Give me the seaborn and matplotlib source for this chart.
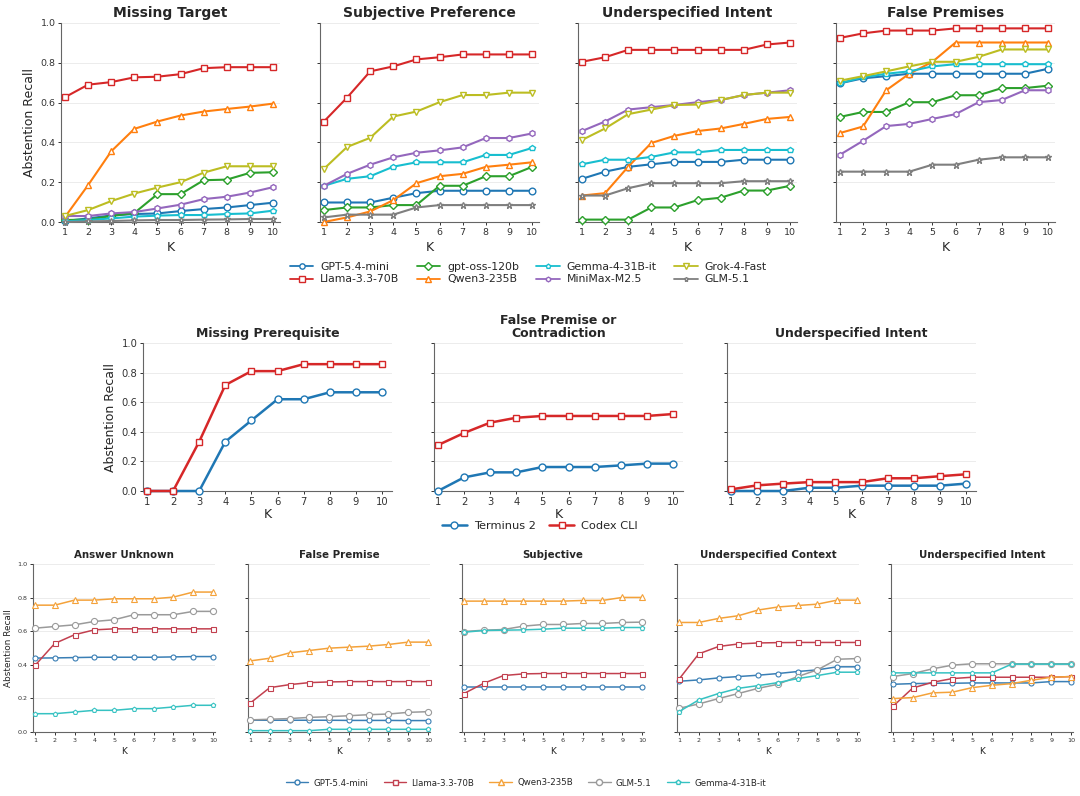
import matplotlib
matplotlib.use("Agg")
import matplotlib.pyplot as plt
import seaborn as sns
from matplotlib.lines import Line2D

K = [1, 2, 3, 4, 5, 6, 7, 8, 9, 10]

# ---------------- top row (8 models) ----------------
top_titles = ["Missing Target", "Subjective Preference", "Underspecified Intent", "False Premises"]
top_models = ["GPT-5.4-mini", "Llama-3.3-70B", "gpt-oss-120b", "Qwen3-235B",
              "Gemma-4-31B-it", "MiniMax-M2.5", "Grok-4-Fast", "GLM-5.1"]

missing_target = {
    "GPT-5.4-mini":   [0.005, 0.018, 0.033, 0.040, 0.043, 0.055, 0.065, 0.073, 0.085, 0.097],
    "Llama-3.3-70B":  [0.627, 0.690, 0.703, 0.727, 0.730, 0.743, 0.773, 0.778, 0.778, 0.778],
    "gpt-oss-120b":   [0.010, 0.012, 0.030, 0.045, 0.140, 0.140, 0.210, 0.213, 0.247, 0.250],
    "Qwen3-235B":     [0.025, 0.185, 0.355, 0.468, 0.505, 0.535, 0.555, 0.568, 0.580, 0.595],
    "Gemma-4-31B-it": [0.003, 0.010, 0.018, 0.027, 0.032, 0.035, 0.035, 0.040, 0.043, 0.057],
    "MiniMax-M2.5":   [0.030, 0.030, 0.043, 0.050, 0.068, 0.087, 0.115, 0.127, 0.148, 0.175],
    "Grok-4-Fast":    [0.030, 0.060, 0.105, 0.143, 0.173, 0.200, 0.248, 0.280, 0.280, 0.280],
    "GLM-5.1":        [0.000, 0.003, 0.005, 0.008, 0.010, 0.010, 0.012, 0.013, 0.015, 0.015],
}
subjective_pref = {
    "GPT-5.4-mini":   [0.098, 0.098, 0.098, 0.122, 0.145, 0.157, 0.157, 0.157, 0.157, 0.157],
    "Llama-3.3-70B":  [0.505, 0.625, 0.757, 0.782, 0.817, 0.828, 0.842, 0.842, 0.842, 0.842],
    "gpt-oss-120b":   [0.060, 0.073, 0.073, 0.085, 0.085, 0.182, 0.182, 0.230, 0.230, 0.277],
    "Qwen3-235B":     [0.000, 0.023, 0.053, 0.110, 0.195, 0.230, 0.242, 0.277, 0.288, 0.300],
    "Gemma-4-31B-it": [0.182, 0.217, 0.230, 0.278, 0.300, 0.300, 0.300, 0.337, 0.337, 0.372],
    "MiniMax-M2.5":   [0.182, 0.242, 0.288, 0.325, 0.348, 0.360, 0.375, 0.422, 0.422, 0.445],
    "Grok-4-Fast":    [0.267, 0.377, 0.423, 0.530, 0.555, 0.602, 0.638, 0.638, 0.650, 0.650],
    "GLM-5.1":        [0.023, 0.037, 0.037, 0.037, 0.073, 0.085, 0.085, 0.085, 0.085, 0.085],
}
underspec_intent = {
    "GPT-5.4-mini":   [0.217, 0.253, 0.277, 0.290, 0.302, 0.302, 0.302, 0.313, 0.313, 0.313],
    "Llama-3.3-70B":  [0.805, 0.828, 0.865, 0.865, 0.865, 0.865, 0.865, 0.865, 0.892, 0.902],
    "gpt-oss-120b":   [0.012, 0.012, 0.012, 0.073, 0.073, 0.110, 0.122, 0.158, 0.158, 0.182],
    "Qwen3-235B":     [0.133, 0.145, 0.278, 0.397, 0.433, 0.457, 0.470, 0.493, 0.518, 0.528],
    "Gemma-4-31B-it": [0.290, 0.313, 0.313, 0.327, 0.350, 0.350, 0.362, 0.362, 0.362, 0.362],
    "MiniMax-M2.5":   [0.457, 0.505, 0.565, 0.577, 0.588, 0.602, 0.613, 0.638, 0.650, 0.662],
    "Grok-4-Fast":    [0.412, 0.470, 0.542, 0.565, 0.588, 0.590, 0.613, 0.638, 0.650, 0.650],
    "GLM-5.1":        [0.133, 0.133, 0.170, 0.195, 0.195, 0.195, 0.195, 0.205, 0.205, 0.205],
}
false_premises = {
    "GPT-5.4-mini":   [0.697, 0.722, 0.733, 0.745, 0.745, 0.745, 0.745, 0.745, 0.745, 0.770],
    "Llama-3.3-70B":  [0.925, 0.948, 0.962, 0.962, 0.962, 0.973, 0.973, 0.973, 0.973, 0.973],
    "gpt-oss-120b":   [0.528, 0.553, 0.553, 0.602, 0.602, 0.637, 0.637, 0.673, 0.673, 0.685],
    "Qwen3-235B":     [0.447, 0.480, 0.662, 0.745, 0.805, 0.902, 0.902, 0.902, 0.902, 0.902],
    "Gemma-4-31B-it": [0.698, 0.727, 0.745, 0.757, 0.782, 0.793, 0.793, 0.793, 0.793, 0.793],
    "MiniMax-M2.5":   [0.338, 0.408, 0.482, 0.493, 0.518, 0.542, 0.602, 0.613, 0.662, 0.662],
    "Grok-4-Fast":    [0.710, 0.733, 0.757, 0.782, 0.805, 0.805, 0.830, 0.867, 0.867, 0.867],
    "GLM-5.1":        [0.253, 0.253, 0.253, 0.253, 0.288, 0.288, 0.313, 0.325, 0.325, 0.325],
}

# ---------------- middle row (2 agents) ----------------
mid_titles = ["Missing Prerequisite", "False Premise or\nContradiction", "Underspecified Intent"]
mid_models = ["Terminus 2", "Codex CLI"]
missing_prereq = {
    "Terminus 2": [0.000, 0.000, 0.000, 0.333, 0.477, 0.620, 0.620, 0.667, 0.667, 0.667],
    "Codex CLI":  [0.000, 0.000, 0.333, 0.716, 0.810, 0.810, 0.857, 0.857, 0.857, 0.857],
}
false_prem_contra = {
    "Terminus 2": [0.000, 0.092, 0.126, 0.126, 0.162, 0.162, 0.162, 0.173, 0.185, 0.185],
    "Codex CLI":  [0.310, 0.392, 0.462, 0.495, 0.507, 0.507, 0.507, 0.507, 0.507, 0.520],
}
mid_underspec_intent = {
    "Terminus 2": [0.000, 0.000, 0.000, 0.022, 0.022, 0.036, 0.036, 0.036, 0.036, 0.050],
    "Codex CLI":  [0.011, 0.038, 0.050, 0.060, 0.060, 0.060, 0.086, 0.086, 0.100, 0.113],
}

# ---------------- bottom row (5 models) ----------------
bot_titles = ["Answer Unknown", "False Premise", "Subjective", "Underspecified Context", "Underspecified Intent"]
bot_models = ["GPT-5.4-mini", "Llama-3.3-70B", "Qwen3-235B", "GLM-5.1", "Gemma-4-31B-it"]
answer_unknown = {
    "GPT-5.4-mini":   [0.440, 0.441, 0.443, 0.445, 0.445, 0.445, 0.445, 0.447, 0.449, 0.449],
    "Llama-3.3-70B":  [0.396, 0.527, 0.579, 0.608, 0.614, 0.614, 0.614, 0.614, 0.614, 0.614],
    "Qwen3-235B":     [0.755, 0.755, 0.785, 0.785, 0.793, 0.793, 0.793, 0.803, 0.833, 0.833],
    "GLM-5.1":        [0.618, 0.628, 0.638, 0.658, 0.668, 0.698, 0.698, 0.698, 0.718, 0.718],
    "Gemma-4-31B-it": [0.109, 0.109, 0.119, 0.129, 0.129, 0.139, 0.139, 0.149, 0.159, 0.159],
}
false_premise_b = {
    "GPT-5.4-mini":   [0.070, 0.070, 0.070, 0.070, 0.070, 0.069, 0.069, 0.069, 0.068, 0.068],
    "Llama-3.3-70B":  [0.171, 0.264, 0.282, 0.294, 0.298, 0.300, 0.300, 0.300, 0.300, 0.300],
    "Qwen3-235B":     [0.423, 0.439, 0.471, 0.485, 0.499, 0.505, 0.511, 0.521, 0.535, 0.535],
    "GLM-5.1":        [0.072, 0.076, 0.080, 0.087, 0.091, 0.097, 0.103, 0.107, 0.117, 0.121],
    "Gemma-4-31B-it": [0.008, 0.008, 0.008, 0.008, 0.016, 0.016, 0.016, 0.016, 0.016, 0.016],
}
subjective_b = {
    "GPT-5.4-mini":   [0.268, 0.268, 0.268, 0.268, 0.268, 0.268, 0.268, 0.268, 0.268, 0.268],
    "Llama-3.3-70B":  [0.229, 0.290, 0.336, 0.346, 0.348, 0.348, 0.348, 0.348, 0.348, 0.348],
    "Qwen3-235B":     [0.779, 0.779, 0.779, 0.779, 0.779, 0.779, 0.783, 0.783, 0.801, 0.801],
    "GLM-5.1":        [0.598, 0.606, 0.610, 0.630, 0.640, 0.640, 0.646, 0.646, 0.652, 0.654],
    "Gemma-4-31B-it": [0.594, 0.604, 0.606, 0.608, 0.612, 0.618, 0.618, 0.618, 0.622, 0.622],
}
underspec_context_b = {
    "GPT-5.4-mini":   [0.302, 0.310, 0.322, 0.330, 0.338, 0.348, 0.360, 0.370, 0.388, 0.388],
    "Llama-3.3-70B":  [0.314, 0.465, 0.509, 0.524, 0.530, 0.532, 0.533, 0.533, 0.533, 0.533],
    "Qwen3-235B":     [0.652, 0.652, 0.676, 0.692, 0.726, 0.744, 0.753, 0.761, 0.785, 0.785],
    "GLM-5.1":        [0.141, 0.167, 0.199, 0.229, 0.260, 0.284, 0.330, 0.370, 0.433, 0.437],
    "Gemma-4-31B-it": [0.121, 0.191, 0.229, 0.260, 0.276, 0.294, 0.318, 0.336, 0.356, 0.356],
}
underspec_intent_b = {
    "GPT-5.4-mini":   [0.284, 0.288, 0.290, 0.290, 0.292, 0.292, 0.292, 0.292, 0.300, 0.300],
    "Llama-3.3-70B":  [0.153, 0.262, 0.296, 0.318, 0.326, 0.326, 0.326, 0.326, 0.326, 0.330],
    "Qwen3-235B":     [0.199, 0.205, 0.233, 0.237, 0.264, 0.278, 0.288, 0.308, 0.326, 0.330],
    "GLM-5.1":        [0.330, 0.348, 0.376, 0.398, 0.406, 0.406, 0.406, 0.406, 0.406, 0.406],
    "Gemma-4-31B-it": [0.352, 0.352, 0.352, 0.352, 0.352, 0.352, 0.404, 0.404, 0.404, 0.404],
}

# ---------------- styles ----------------
top_style = {
    "GPT-5.4-mini":   ("#1f77b4", "o", 4.8),
    "Llama-3.3-70B":  ("#d62728", "s", 4.8),
    "gpt-oss-120b":   ("#2ca02c", "D", 4.5),
    "Qwen3-235B":     ("#ff7f0e", "^", 4.8),
    "Gemma-4-31B-it": ("#17becf", "p", 4.2),
    "MiniMax-M2.5":   ("#9467bd", "h", 4.2),
    "Grok-4-Fast":    ("#bcbd22", "v", 4.8),
    "GLM-5.1":        ("#7f7f7f", "*", 4.5),
}
mid_style = {
    "Terminus 2": ("#1f77b4", "o", 5.0),
    "Codex CLI":  ("#d62728", "s", 5.0),
}
bot_style = {
    "GPT-5.4-mini":   ("#3a7fb5", "o", 3.6),
    "Llama-3.3-70B":  ("#c2404f", "s", 3.6),
    "Qwen3-235B":     ("#f4a23a", "^", 3.8),
    "GLM-5.1":        ("#9a9a9a", "o", 4.4),
    "Gemma-4-31B-it": ("#36c2c2", "p", 3.4),
}

sns.set_style("ticks")
plt.rcParams["font.family"] = ["DejaVu Sans"]

W, H = 1080, 796
fig = plt.figure(figsize=(W / 100, H / 100), dpi=100)


def add_ax(left, top, width, height):
    return fig.add_axes([left / W, 1 - (top + height) / H, width / W, height / H])


def style_ax(ax, xlim, tick_fs, title, title_fs, xlabel_fs, show_y, ylabel_fs, ylabel, xpad=2):
    ax.set_xlim(*xlim)
    ax.set_ylim(0, 1.0)
    ax.set_xticks(K)
    ax.set_yticks([0, 0.2, 0.4, 0.6, 0.8, 1.0])
    ax.grid(axis="y", color="#ececec", linewidth=0.7, zorder=0)
    ax.grid(axis="x", visible=False)
    ax.set_axisbelow(True)
    for s in ["top", "right"]:
        ax.spines[s].set_visible(False)
    for s in ["left", "bottom"]:
        ax.spines[s].set_color("#666666")
        ax.spines[s].set_linewidth(0.8)
    ax.tick_params(axis="both", labelsize=tick_fs, colors="#333333", length=2.5, width=0.7, pad=1.5)
    ax.set_title(title, fontsize=title_fs, fontweight="bold", pad=4)
    ax.set_xlabel("K", fontsize=xlabel_fs, labelpad=xpad)
    if show_y:
        ax.set_yticklabels(["0.0", "0.2", "0.4", "0.6", "0.8", "1.0"])
        ax.set_ylabel(ylabel, fontsize=ylabel_fs, labelpad=3)
    else:
        ax.set_yticklabels([])
        ax.set_ylabel("")


def draw(ax, data, models, styles, lw, mew):
    for m in models:
        c, mk, ms = styles[m]
        sns.lineplot(x=K, y=data[m], ax=ax, color=c, marker=mk, markersize=ms,
                     markerfacecolor="white", markeredgecolor=c, markeredgewidth=mew,
                     linewidth=lw, legend=False, clip_on=False, zorder=3)


# top row
top_data = [missing_target, subjective_pref, underspec_intent, false_premises]
top_lefts = [61, 320, 578, 836]
for i, (d, t) in enumerate(zip(top_data, top_titles)):
    ax = add_ax(top_lefts[i], 23, 219, 199)
    draw(ax, d, top_models, top_style, 1.5, 1.0)
    style_ax(ax, (0.83, 10.3), 6.8, t, 10, 9, i == 0, 9, "Abstention Recall", xpad=3)

top_handles = [Line2D([0], [0], color=top_style[m][0], marker=top_style[m][1],
                      markersize=top_style[m][2] * 0.8, markerfacecolor="white",
                      markeredgecolor=top_style[m][0], linewidth=1.3) for m in top_models]
fig.legend(top_handles, top_models, loc="center", bbox_to_anchor=(528 / W, 1 - 273 / H),
           ncol=4, frameon=False, fontsize=7.8, handlelength=2.2, columnspacing=1.6,
           handletextpad=0.6, labelspacing=0.25)

# middle row
mid_data = [missing_prereq, false_prem_contra, mid_underspec_intent]
mid_lefts = [143, 434, 727]
for i, (d, t) in enumerate(zip(mid_data, mid_titles)):
    ax = add_ax(mid_lefts[i], 343, 249, 148)
    draw(ax, d, mid_models, mid_style, 1.8, 1.0)
    style_ax(ax, (0.85, 10.38), 7.2, t, 9, 9, i == 0, 9, "Abstention Recall", xpad=1)
    ax.title.set_linespacing(1.0)

mid_handles = [Line2D([0], [0], color=mid_style[m][0], marker=mid_style[m][1],
                      markersize=5, markerfacecolor="white",
                      markeredgecolor=mid_style[m][0], linewidth=1.8) for m in mid_models]
fig.legend(mid_handles, mid_models, loc="center", bbox_to_anchor=(540 / W, 1 - 526 / H),
           ncol=2, frameon=False, fontsize=8.2, handlelength=2.2, columnspacing=1.2,
           handletextpad=0.6)

# bottom row
bot_data = [answer_unknown, false_premise_b, subjective_b, underspec_context_b, underspec_intent_b]
bot_lefts = [33, 248, 462, 677, 891]
for i, (d, t) in enumerate(zip(bot_data, bot_titles)):
    ax = add_ax(bot_lefts[i], 564, 182, 168)
    draw(ax, d, bot_models, bot_style, 1.1, 0.8)
    style_ax(ax, (0.9, 10.1), 4.6, t, 7.4, 6.5, i == 0, 6.4, "Abstention Recall", xpad=3)

bot_handles = [Line2D([0], [0], color=bot_style[m][0], marker=bot_style[m][1],
                      markersize=bot_style[m][2], markerfacecolor="white",
                      markeredgecolor=bot_style[m][0], linewidth=1.0) for m in bot_models]
fig.legend(bot_handles, bot_models, loc="center", bbox_to_anchor=(526 / W, 1 - 783 / H),
           ncol=5, frameon=False, fontsize=6.2, handlelength=2.6, columnspacing=1.8,
           handletextpad=0.6)

fig.savefig("out.png", dpi=100, facecolor="white")
